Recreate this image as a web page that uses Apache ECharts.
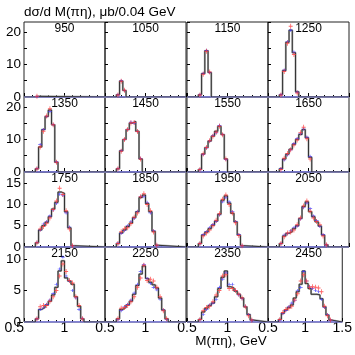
<!DOCTYPE html>
<html>
<head>
<meta charset="utf-8">
<script src="https://cdn.jsdelivr.net/npm/echarts@6/dist/echarts.min.js"></script>
<style>
html, body { margin: 0; padding: 0; background: #fff; }
#main { width: 355px; height: 355px; }
</style>
</head>
<body>
<div id="main"></div>
<script>
// panel labels, row by row
var panelNames = ['950', '1050', '1150', '1250', '1350', '1450', '1550', '1650',
                  '1750', '1850', '1950', '2050', '2150', '2250', '2350', '2450'];

// bin edges, 0.04 GeV bins
var binEdges = [0.64, 0.68, 0.72, 0.76, 0.80, 0.84, 0.88, 0.92, 0.96, 1.00,
                1.04, 1.08, 1.12, 1.16, 1.20, 1.24, 1.28, 1.32, 1.36];

// histogram (line) values per panel, first value is the bin 0.64-0.68
var histVals = [
    [0.2],
    [0.7, 4.9, 2.0],
    [0.7, 7.2, 14.2, 7.5],
    [0.7, 8.1, 16.8, 20.5, 13.6, 1.6],
    [1.0, 7.7, 13, 17, 19, 14.5, 3],
    [1, 6.5, 10, 13, 15, 15.5, 12.5, 4],
    [0.8, 5.5, 7.5, 9.5, 11, 12.5, 14, 11.5, 4],
    [1, 4, 5.5, 7, 8.5, 10, 11.5, 13, 10.5, 4.5],
    [1, 4, 5, 5.8, 7.1, 8.9, 10.5, 12.9, 12.6, 8.3, 4.5, 0.3],
    [0.8, 3.3, 4, 4.8, 5.6, 6.9, 8.3, 11.6, 12.2, 10.2, 8.3, 3.7, 0.4],
    [0.8, 2.8, 3.5, 4.3, 5.1, 6.1, 7.7, 11, 12, 10.3, 7.9, 5.9, 2.8, 0.3],
    [0.8, 2.6, 3.2, 3.6, 4.3, 5, 6.7, 9.5, 10.6, 8.3, 7.1, 5.9, 4.9, 2.8, 0.5],
    [0.5, 2, 2.3, 2.7, 3.3, 4.3, 5.5, 8.1, 9.7, 7, 6.5, 6, 4, 2.5, 0.5],
    [0.5, 2, 2.3, 2.7, 3.3, 4.4, 5.8, 7.6, 8.9, 6.9, 6.3, 5.9, 5.4, 3.8, 1.9, 0.5],
    [0.4, 1.6, 2.2, 2.6, 3, 4, 5.3, 7.1, 8.1, 5.6, 5.4, 4.9, 4.4, 3.8, 2.4, 1.2, 0.3],
    [0.4, 1.4, 1.9, 2.3, 2.7, 3.8, 4.8, 6, 8.1, 6.1, 5.3, 4.4, 4.4, 4.3, 3.7, 2.4, 1.1, 0.3]
];

// red points
var redVals = [
    [0.2],
    [0.6, 4.8, 2.1],
    [0.6, 7.0, 14.0, 7.7],
    [0.6, 7.8, 16.5, 21.7, 13.0, 1.2],
    [1.0, 7.7, 12.5, 17.2, 19.4, 14.5, 3.0],
    [1.0, 6.4, 10.0, 13.0, 15.0, 15.2, 12.4, 4.0],
    [0.8, 5.5, 7.5, 9.6, 11.0, 12.2, 14.0, 11.4, 4.0],
    [0.8, 4.2, 5.7, 6.8, 8.3, 9.8, 12.0, 13.7, 10.2, 4.0],
    [1.0, 4.2, 4.8, 5.6, 6.8, 8.8, 10.8, 13.8, 12.3, 8.5, 4.2, 0.3],
    [0.8, 3.6, 4.3, 4.5, 5.5, 7.0, 8.0, 11.8, 12.5, 10.0, 8.5, 3.5, 0.4],
    [0.8, 2.6, 3.3, 4.0, 5.0, 6.3, 7.8, 11.2, 12.2, 10.0, 8.0, 5.7, 2.7, 0.3],
    [0.8, 2.4, 3.3, 3.5, 4.0, 5.2, 6.8, 9.6, 10.8, 8.4, 6.8, 6.0, 5.2, 2.6, 0.5],
    [0.5, 2.4, 2.6, 2.6, 3.3, 4.0, 5.0, 7.3, 9.2, 8.0, 6.6, 6.2, 4.0, 2.6, 0.5],
    [0.5, 2.2, 2.3, 2.6, 3.2, 4.0, 5.5, 7.0, 9.0, 6.6, 6.8, 6.5, 5.5, 4.0, 1.8, 0.5],
    [0.4, 1.8, 2.3, 2.5, 3.2, 4.3, 5.0, 7.3, 7.5, 5.3, 5.3, 5.0, 4.4, 3.8, 2.4, 1.0, 0.3],
    [0.4, 1.5, 2.0, 2.2, 2.5, 3.5, 4.5, 6.5, 7.5, 6.5, 5.5, 5.6, 5.5, 5.4, 4.8, 2.5, 1.0, 0.3]
];

// blue points
var blueVals = [
    [0.15],
    [0.7, 5.0, 2.0],
    [0.7, 7.3, 14.3, 7.5],
    [0.8, 8.3, 17.0, 20.5, 13.8, 1.5],
    [1.1, 8.4, 13.0, 17.0, 18.5, 14.5, 3.1],
    [1.0, 6.5, 10.0, 13.0, 15.3, 15.0, 12.5, 4.2],
    [0.8, 5.4, 7.4, 9.5, 11.2, 12.0, 14.3, 11.5, 3.8],
    [1.0, 3.7, 5.2, 6.8, 8.7, 10.3, 11.7, 13.2, 10.7, 4.8],
    [1.1, 4.0, 5.4, 6.0, 7.3, 8.7, 10.2, 12.4, 12.1, 8.0, 4.7, 0.3],
    [0.9, 3.2, 3.8, 5.0, 6.0, 6.7, 8.4, 11.8, 11.8, 10.5, 8.0, 3.8, 0.4],
    [0.8, 2.9, 3.6, 4.5, 5.3, 6.0, 7.5, 10.6, 11.6, 10.6, 8.3, 6.0, 2.9, 0.3],
    [0.8, 2.8, 3.1, 3.8, 4.5, 4.9, 6.6, 9.2, 10.3, 9.0, 7.3, 6.2, 4.8, 2.9, 0.5],
    [0.5, 2.0, 2.3, 2.8, 3.5, 4.5, 6.0, 8.4, 10.3, 7.3, 6.5, 5.0, 3.8, 2.0, 0.6],
    [0.4, 1.8, 2.4, 2.8, 3.5, 4.6, 6.0, 8.0, 9.1, 6.9, 6.1, 5.5, 5.1, 3.6, 1.9, 0.4],
    [0.4, 1.2, 2.0, 2.7, 3.0, 3.6, 5.5, 6.8, 7.8, 6.0, 6.0, 5.0, 4.3, 3.7, 2.5, 1.2, 0.3],
    [0.3, 1.3, 1.8, 2.4, 3.0, 3.4, 5.0, 5.5, 8.0, 6.5, 5.6, 5.3, 5.0, 4.8, 3.6, 2.3, 1.2, 0.3]
];

// y range and label step of each row
var rowMax = [23, 23, 17.6, 11.9];
var rowLabelStep = [10, 10, 5, 5];

var colLeft = [24, 105, 187, 268];
var rowTop = [22, 97, 172, 247];
var panelW = 81, panelH = 75;

var plusPath = 'path://M4,0L6,0L6,4L10,4L10,6L6,6L6,10L4,10L4,6L0,6L0,4L4,4Z';

var grids = [], xAxes = [], yAxes = [], series = [], texts = [];

panelNames.forEach(function (name, i) {
    var r = Math.floor(i / 4), c = i % 4;
    grids.push({
        left: colLeft[c], top: rowTop[r], width: panelW, height: panelH,
        show: true, borderColor: '#222', borderWidth: 1, backgroundColor: 'transparent'
    });
    xAxes.push({
        gridIndex: i, type: 'value', min: 0.5, max: 1.5, interval: 0.5,
        axisLine: { show: false },
        splitLine: { show: false },
        axisTick: { inside: true, length: 4, lineStyle: { color: '#000' } },
        minorTick: { show: true, splitNumber: 5, length: 2, lineStyle: { color: '#000' } },
        axisLabel: {
            show: r === 3, fontSize: 14, margin: -1, color: '#000',
            showMaxLabel: c === 3, alignMinLabel: c === 0 ? 'right' : 'center'
        }
    });
    var step = rowLabelStep[r];
    yAxes.push({
        gridIndex: i, type: 'value', min: 0, max: rowMax[r], interval: 5,
        axisLine: { show: false },
        splitLine: { show: false },
        axisTick: { inside: true, length: 3, lineStyle: { color: '#000' } },
        axisLabel: {
            show: c === 0, fontSize: 13.5, margin: 3, color: '#000', showMaxLabel: false,
            formatter: function (v) { return v % step === 0 ? String(v) : ''; }
        }
    });

    var h = histVals[i];
    var pts = [[0.5, 0]];
    for (var k = 0; k < h.length; k++) pts.push([binEdges[k], h[k]]);
    pts.push([binEdges[h.length], 0]);
    pts.push([1.5, 0]);

    var red = redVals[i].map(function (v, k) { return [(binEdges[k] + binEdges[k + 1]) / 2, v]; });
    var blue = blueVals[i].map(function (v, k) { return [(binEdges[k] + binEdges[k + 1]) / 2, v]; });

    series.push({
        type: 'line', xAxisIndex: i, yAxisIndex: i, data: pts, step: 'end',
        symbol: 'none', lineStyle: { color: '#aaaaaa', width: 2 }, z: 2
    });
    series.push({
        type: 'line', xAxisIndex: i, yAxisIndex: i, data: [[0.5, 0], [1.5, 0]],
        symbol: 'none', lineStyle: { color: '#8080ee', width: 1.5 }, z: 2
    });
    series.push({
        type: 'line', xAxisIndex: i, yAxisIndex: i, data: pts, step: 'end',
        symbol: 'none', lineStyle: { color: '#333', width: 1 }, z: 3
    });
    series.push({
        type: 'scatter', xAxisIndex: i, yAxisIndex: i, data: blue,
        symbol: plusPath, symbolSize: [4, 3], itemStyle: { color: '#3535ff' }, z: 4
    });
    series.push({
        type: 'scatter', xAxisIndex: i, yAxisIndex: i, data: red,
        symbol: plusPath, symbolSize: [4, 5], itemStyle: { color: '#ff3a3a' }, z: 5
    });

    texts.push({
        type: 'text', x: colLeft[c] + panelW / 2, y: rowTop[r] + 7,
        style: { text: name, fontSize: 12, fontFamily: 'Liberation Sans', fill: '#000',
                 align: 'center', verticalAlign: 'middle', textAlign: 'center', textVerticalAlign: 'middle' }
    });
});

texts.push({
    type: 'text', x: 24, y: 12,
    style: { text: 'dσ/d M(πη), μb/0.04 GeV', fontSize: 13.5, fontFamily: 'Liberation Sans', fill: '#000',
             align: 'left', verticalAlign: 'middle', textAlign: 'left', textVerticalAlign: 'middle' }
});
texts.push({
    type: 'text', x: 231, y: 341,
    style: { text: 'M(πη), GeV', fontSize: 13.5, fontFamily: 'Liberation Sans', fill: '#000',
             align: 'center', verticalAlign: 'middle', textAlign: 'center', textVerticalAlign: 'middle' }
});

var myChart = echarts.init(document.getElementById('main'));
var option = {
    animation: false,
    textStyle: { fontFamily: 'Liberation Sans' },
    grid: grids,
    xAxis: xAxes,
    yAxis: yAxes,
    series: series,
    graphic: texts
};
option && myChart.setOption(option);
</script>
</body>
</html>
